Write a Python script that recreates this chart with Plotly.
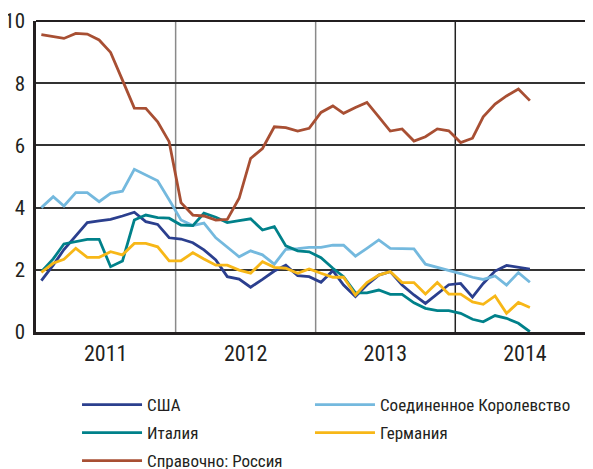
import plotly.graph_objects as go

months = [f"{y}-{m:02d}-15" for y in range(2011, 2015) for m in range(1, 13)][:43]

usa = [1.65, 2.15, 2.65, 3.1, 3.52, 3.57, 3.62, 3.73, 3.85, 3.55, 3.46, 3.03,
       2.99, 2.87, 2.64, 2.32, 1.78, 1.70, 1.44, 1.69, 1.96, 2.15, 1.81, 1.78,
       1.60, 1.97, 1.51, 1.14, 1.51, 1.83, 1.94, 1.51, 1.19, 0.92, 1.24, 1.52,
       1.56, 1.12, 1.56, 1.96, 2.14, 2.09, 2.02]
uk = [4.00, 4.35, 4.05, 4.48, 4.48, 4.19, 4.46, 4.53, 5.23, 5.04, 4.86, 4.25,
      3.60, 3.42, 3.50, 3.03, 2.74, 2.42, 2.61, 2.48, 2.18, 2.66, 2.68, 2.72,
      2.72, 2.79, 2.79, 2.44, 2.69, 2.96, 2.69, 2.68, 2.67, 2.18, 2.08, 2.00,
      1.88, 1.76, 1.69, 1.80, 1.51, 1.91, 1.60]
italy = [1.94, 2.35, 2.83, 2.90, 2.98, 2.98, 2.10, 2.28, 3.60, 3.76, 3.68, 3.66,
         3.44, 3.42, 3.82, 3.69, 3.52, 3.58, 3.64, 3.28, 3.39, 2.77, 2.61, 2.58,
         2.39, 2.05, 1.78, 1.26, 1.26, 1.35, 1.21, 1.21, 0.94, 0.76, 0.69, 0.69,
         0.60, 0.41, 0.33, 0.53, 0.44, 0.28, 0.01]
germany = [1.92, 2.21, 2.34, 2.69, 2.40, 2.40, 2.58, 2.48, 2.85, 2.85, 2.74, 2.29,
           2.29, 2.55, 2.35, 2.15, 2.15, 1.99, 1.89, 2.26, 2.08, 2.05, 1.89, 2.03,
           1.89, 1.76, 1.76, 1.19, 1.59, 1.83, 1.94, 1.59, 1.59, 1.22, 1.59, 1.22,
           1.22, 0.97, 0.89, 1.16, 0.60, 0.95, 0.79]
russia = [9.56, 9.50, 9.44, 9.60, 9.58, 9.39, 8.99, 8.10, 7.20, 7.19, 6.76, 6.12,
          4.16, 3.76, 3.73, 3.60, 3.62, 4.30, 5.58, 5.90, 6.60, 6.57, 6.46, 6.55,
          7.06, 7.27, 7.03, 7.22, 7.38, 6.92, 6.46, 6.53, 6.14, 6.28, 6.53, 6.47,
          6.09, 6.23, 6.92, 7.33, 7.59, 7.81, 7.44]

year_ticks = ["2011-07-02", "2012-07-02", "2013-07-02", "2014-07-02"]
year_labels = ["2011", "2012", "2013", "2014"]
y_ticks = [0, 2, 4, 6, 8, 10]

series = [
    ("США", usa, "#2b3f8e", "legend"),
    ("Соединенное Королевство", uk, "#74b9de", "legend4"),
    ("Италия", italy, "#00818a", "legend2"),
    ("Германия", germany, "#f7b717", "legend5"),
    ("Справочно: Россия", russia, "#a84f33", "legend3"),
]

FONT = "Roboto Condensed, DejaVu Sans Condensed, sans-serif"

fig = go.Figure()
for name, vals, color, lg in series:
    fig.add_trace(go.Scatter(x=months, y=vals, mode="lines", name=name,
                             line=dict(color=color, width=2.8), legend=lg))

# vertical year separators
for d, c in [("2012-01-01", "#8a8a8a"), ("2013-01-01", "#8a8a8a"), ("2014-01-01", "#222222")]:
    fig.add_shape(type="line", xref="x", yref="paper", x0=d, x1=d, y0=0, y1=1,
                  line=dict(color=c, width=1.5), layer="below")
# top frame line
fig.add_shape(type="line", xref="paper", yref="paper", x0=0, x1=1, y0=1, y1=1,
              line=dict(color="#231f20", width=2), layer="above")

legend_common = dict(font=dict(family=FONT, size=17, color="#231f20"),
                     bgcolor="rgba(0,0,0,0)", itemwidth=60, xanchor="left",
                     yanchor="middle", xref="container", yref="container",
                     itemclick=False, itemdoubleclick=False)
c1 = 0.118
c2 = 0.5162
fig.update_layout(
    width=585, height=461,
    margin=dict(l=28, r=0, t=13, b=137, autoexpand=False),
    paper_bgcolor="white", plot_bgcolor="white",
    font=dict(family=FONT, color="#231f20"),
    showlegend=True,
    legend=dict(x=c1, y=0.1388, **legend_common),
    legend2=dict(x=c1, y=0.0781, **legend_common),
    legend3=dict(x=c1, y=0.0174, **legend_common),
    legend4=dict(x=c2, y=0.1388, **legend_common),
    legend5=dict(x=c2, y=0.0781, **legend_common),
    xaxis=dict(range=["2011-01-01", "2014-12-27"], tickvals=year_ticks, ticktext=year_labels,
               showgrid=False, showline=True, linecolor="#231f20", linewidth=2.5,
               ticks="", ticklabelstandoff=0, tickfont=dict(size=22), zeroline=False),
    yaxis=dict(range=[0, 10], tickvals=y_ticks, showgrid=True, gridcolor="#333333",
               gridwidth=1.5, showline=True, linecolor="#231f20", linewidth=2.5,
               ticks="", ticklabelstandoff=4, tickfont=dict(size=21), zeroline=False),
)
fig.write_html("out.html")
